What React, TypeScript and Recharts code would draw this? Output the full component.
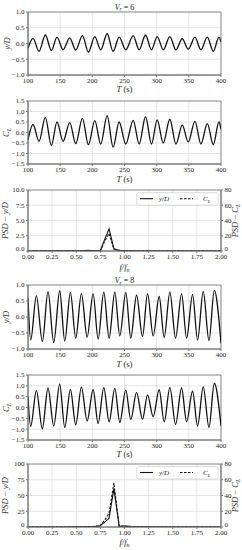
import React from 'react';
import { LineChart, Line, XAxis, YAxis, CartesianGrid, ReferenceArea } from 'recharts';

const FONT = '"Liberation Serif", "DejaVu Serif", serif';

// ---- Vr = 6 time series (extrema) ----
const t6 = [100, 107.8, 117.1, 127.0, 136.3, 145.1, 154.5, 164.9, 174.2, 184.6, 193.9, 203.8, 213.1, 223.0, 232.3, 241.7, 252.0, 263.5, 272.8, 282.7, 292.0, 300.8, 310.2, 320.5, 329.9, 339.8, 349.1, 359.5, 368.8, 378.7, 388.0, 396.8, 400];
const yD6 = [-0.15, 0.16, -0.25, 0.27, -0.22, 0.2, -0.2, 0.18, -0.21, 0.25, -0.27, 0.22, -0.2, 0.31, -0.25, 0.2, -0.2, 0.25, -0.2, 0.27, -0.2, 0.22, -0.2, 0.22, -0.2, 0.15, -0.18, 0.2, -0.2, 0.2, -0.25, 0.2, 0.05];
const cL6 = [-0.35, 0.38, -0.42, 0.72, -0.62, 0.5, -0.42, 0.47, -0.53, 0.67, -0.58, 0.57, -0.55, 0.8, -0.7, 0.5, -0.55, 0.58, -0.55, 0.75, -0.55, 0.6, -0.5, 0.63, -0.55, 0.35, -0.45, 0.53, -0.55, 0.42, -0.58, 0.5, 0.15];

// ---- Vr = 8 time series ----
const t8 = [100, 104.2, 113.0, 122.3, 131.1, 140.0, 149.3, 157.1, 165.9, 174.2, 183.0, 191.9, 201.2, 209.0, 217.8, 226.1, 234.9, 242.7, 252.0, 259.8, 268.7, 278.0, 285.8, 294.6, 303.9, 311.7, 320.5, 329.4, 338.7, 346.5, 355.8, 363.6, 372.4, 381.3, 389.6, 400];
const yD8 = [0.6, -0.72, 0.66, -0.77, 0.79, -0.8, 0.82, -0.75, 0.77, -0.66, 0.73, -0.63, 0.72, -0.69, 0.78, -0.66, 0.78, -0.59, 0.76, -0.66, 0.68, -0.61, 0.72, -0.59, 0.64, -0.64, 0.78, -0.66, 0.72, -0.66, 0.7, -0.72, 0.8, -0.74, 0.83, -0.82];
const cL8 = [0.5, -0.87, 0.78, -0.98, 0.9, -0.85, 1.08, -0.92, 0.84, -0.8, 0.94, -0.62, 0.82, -0.74, 0.92, -0.66, 0.88, -0.69, 0.8, -0.56, 0.7, -0.55, 0.58, -0.42, 0.82, -0.66, 0.92, -0.78, 0.9, -0.66, 0.75, -0.85, 0.95, -0.92, 1.12, -0.85];

const timeTicks = [100, 150, 200, 250, 300, 350, 400];
const yDTicks = [-1, -0.5, 0, 0.5, 1];
const cLTicks = [-1.5, -1, -0.5, 0, 0.5, 1, 1.5];

// ---- PSD, Vr = 6 ----
const freq6 = [0, 0.1, 0.2, 0.3, 0.4, 0.5, 0.56, 0.62, 0.68, 0.75, 0.795, 0.84, 0.89, 0.94, 0.99, 1.05, 1.1, 1.2, 1.4, 1.6, 1.8, 2.0];
const psdYD6 = [0.01, 0.01, 0.01, 0.02, 0.02, 0.03, 0.05, 0.1, 0.04, 0.05, 1.9, 3.65, 0.35, 0.12, 0.08, 0.04, 0.02, 0.01, 0.01, 0.01, 0.01, 0.01];
const psdCL6 = [0.1, 0.1, 0.1, 0.1, 0.2, 0.2, 0.3, 0.6, 0.3, 0.4, 13, 23, 2.5, 0.9, 0.6, 0.3, 0.2, 0.1, 0.1, 0.1, 0.1, 0.1];

// ---- PSD, Vr = 8 ----
const freq8 = [0, 0.1, 0.2, 0.3, 0.4, 0.5, 0.6, 0.65, 0.7, 0.745, 0.79, 0.84, 0.89, 0.945, 0.99, 1.04, 1.1, 1.2, 1.4, 1.6, 1.8, 2.0];
const psdYD8 = [0.1, 0.1, 0.1, 0.1, 0.1, 0.2, 0.3, 0.5, 1.0, 2.0, 7, 14, 61, 1.0, 1.5, 1.0, 0.3, 0.2, 0.1, 0.1, 0.1, 0.1];
const psdCL8 = [0.1, 0.1, 0.1, 0.1, 0.1, 0.2, 0.3, 0.5, 0.8, 1.2, 8, 17.5, 56, 0.8, 1.2, 0.8, 0.3, 0.2, 0.1, 0.1, 0.1, 0.1];

const freqTicks = [0, 0.25, 0.5, 0.75, 1, 1.25, 1.5, 1.75, 2];
const psdLeftTicks6 = [0, 2.5, 5, 7.5, 10];
const psdLeftTicks8 = [0, 25, 50, 75, 100];
const psdRightTicks = [0, 20, 40, 60, 80];

const tickStyle = { fontSize: 7, fill: '#222', fontFamily: FONT };
const AX = '#777';
const GRID = '#dedede';

const fmt1 = (v: number) => (v < 0 ? '\u2212' : '') + Math.abs(v).toFixed(1);
const fmt2 = (v: number) => v.toFixed(2);
const fmt0 = (v: number) => String(v);

// y-axis tick that lifts the bottom (zero) label slightly so it clears the x tick label
const makeYTick = (fmt: (v: number) => string, lift: number) => (p: any) => {
  const v = p.payload.value;
  const dy = v === 0 ? -lift : 0;
  return (
    <text x={p.x} y={p.y + dy} dy="0.355em" textAnchor={p.textAnchor} fontSize={7} fill="#222" fontFamily={FONT}>
      {fmt(v)}
    </text>
  );
};

function TimePanel(props: { top: number; height: number; mTop: number; xH: number; t: number[]; v: number[]; yTicks: number[] }) {
  const { top, height, mTop, xH, t, v, yTicks } = props;
  const data = t.map((x, i) => ({ t: x, v: v[i] }));
  const yMin = yTicks[0];
  const yMax = yTicks[yTicks.length - 1];
  return (
    <div style={{ position: 'absolute', left: 0, top }}>
      <LineChart width={242} height={height} data={data} margin={{ top: mTop, right: 21, bottom: 0, left: 0 }}>
        <CartesianGrid stroke={GRID} strokeWidth={0.8} />
        <XAxis dataKey="t" type="number" domain={[100, 400]} ticks={timeTicks} interval={0} height={xH}
          tickSize={2} tickMargin={1} tick={tickStyle} stroke={AX} tickFormatter={fmt0} allowDataOverflow />
        <YAxis type="number" domain={[yMin, yMax]} ticks={yTicks} interval={0} width={28}
          tickSize={2} tickMargin={1.5} tick={tickStyle} stroke={AX} tickFormatter={fmt1} allowDataOverflow />
        <ReferenceArea x1={100} x2={400} y1={yMin} y2={yMax} fill="none" fillOpacity={0} stroke={AX} strokeWidth={0.8} />
        <Line dataKey="v" type="monotone" stroke="#111" strokeWidth={1.3} dot={false} isAnimationActive={false} />
      </LineChart>
    </div>
  );
}

function PsdPanel(props: { top: number; height: number; mTop: number; xH: number; f: number[]; a: number[]; b: number[]; leftTicks: number[]; leftFmt: (v: number) => string }) {
  const { top, height, mTop, xH, f, a, b, leftTicks, leftFmt } = props;
  const data = f.map((x, i) => ({ f: x, yd: a[i], cl: b[i] }));
  const lMax = leftTicks[leftTicks.length - 1];
  return (
    <div style={{ position: 'absolute', left: 0, top }}>
      <LineChart width={242} height={height} data={data} margin={{ top: mTop, right: 0, bottom: 0, left: 0 }}>
        <CartesianGrid stroke={GRID} strokeWidth={0.8} />
        <XAxis dataKey="f" type="number" domain={[0, 2]} ticks={freqTicks} interval={0} height={xH}
          tickSize={2} tickMargin={1.5} tick={tickStyle} stroke={AX} tickFormatter={fmt2} allowDataOverflow />
        <YAxis type="number" domain={[0, lMax]} ticks={leftTicks} interval={0} width={28}
          tickSize={2} tickMargin={1.5} tick={makeYTick(leftFmt, 2.5)} stroke={AX} allowDataOverflow />
        <YAxis yAxisId="r" orientation="right" type="number" domain={[0, 80]} ticks={psdRightTicks} interval={0} width={21}
          tickSize={2} tickMargin={1.5} tick={makeYTick(fmt0, 2.5)} stroke={AX} allowDataOverflow />
        <ReferenceArea x1={0} x2={2} y1={0} y2={lMax} fill="none" fillOpacity={0} stroke={AX} strokeWidth={0.8} />
        <Line dataKey="yd" type="linear" stroke="#111" strokeWidth={1.1} dot={false} isAnimationActive={false} />
        <Line dataKey="cl" yAxisId="r" type="linear" stroke="#111" strokeWidth={1.1} strokeDasharray="2.5 1.5" dot={false} isAnimationActive={false} />
      </LineChart>
    </div>
  );
}

function Legend(props: { y: number }) {
  const { y } = props;
  return (
    <g>
      <rect x={136.7} y={y} width={81.6} height={12.5} rx={2} fill="#fff" fillOpacity={0.85} stroke="#ccc" strokeWidth={0.7} />
      <line x1={140} x2={153} y1={y + 6} y2={y + 6} stroke="#111" strokeWidth={1.1} />
      <text x={159} y={y + 8.5} fontSize={7} fontStyle="italic">y/D</text>
      <line x1={180} x2={193} y1={y + 6} y2={y + 6} stroke="#111" strokeWidth={1.1} strokeDasharray="2.5 1.5" />
      <text x={203} y={y + 8.5} fontSize={7} fontStyle="italic">C<tspan fontSize={5} dy={1.5}>L</tspan></text>
    </g>
  );
}

function YLabel(props: { x: number; y: number; kind: 'yd' | 'cl' | 'psdyd' | 'psdcl' }) {
  const { x, y, kind } = props;
  const tf = `translate(${x},${y}) rotate(-90)`;
  if (kind === 'yd') return <text transform={tf} textAnchor="middle" fontSize={8.5} fontStyle="italic">y/D</text>;
  if (kind === 'cl') return <text transform={tf} textAnchor="middle" fontSize={8.5} fontStyle="italic">C<tspan fontSize={6} dy={1.5}>L</tspan></text>;
  if (kind === 'psdyd') return <text transform={tf} textAnchor="middle" fontSize={8.5} fontStyle="italic">PSD <tspan fontStyle="normal">{'\u2212'}</tspan> y/D</text>;
  return <text transform={tf} textAnchor="middle" fontSize={8.5} fontStyle="italic">PSD <tspan fontStyle="normal">{'\u2212'}</tspan> C<tspan fontSize={6} dy={1.5}>L</tspan></text>;
}

function TLabel(props: { y: number }) {
  return <text x={124.5} y={props.y} textAnchor="middle" fontSize={8.5}><tspan fontStyle="italic">T</tspan> (s)</text>;
}

function FLabel(props: { y: number }) {
  return <text x={124.5} y={props.y} textAnchor="middle" fontSize={8.5} fontStyle="italic">f/f<tspan fontSize={6} dy={1.5}>n</tspan></text>;
}

function Title(props: { y: number; v: string }) {
  return (
    <text x={124.5} y={props.y} textAnchor="middle" fontSize={8}>
      <tspan fontStyle="italic">V</tspan><tspan fontStyle="italic" fontSize={5.5} dy={1.5}>r</tspan><tspan dy={-1.5}> = {props.v}</tspan>
    </text>
  );
}

export default function App() {
  return (
    <div style={{ position: 'absolute', left: 0, top: 0, width: 242, height: 550, background: '#fff', fontFamily: FONT }}>
      <TimePanel top={0} height={95} mTop={12} xH={20} t={t6} v={yD6} yTicks={yDTicks} />
      <TimePanel top={90} height={95} mTop={11} xH={21} t={t6} v={cL6} yTicks={cLTicks} />
      <PsdPanel top={180} height={100} mTop={10} xH={29} f={freq6} a={psdYD6} b={psdCL6} leftTicks={psdLeftTicks6} leftFmt={fmt1} />
      <TimePanel top={275} height={95} mTop={10} xH={21} t={t8} v={yD8} yTicks={yDTicks} />
      <TimePanel top={365} height={95} mTop={10} xH={20} t={t8} v={cL8} yTicks={cLTicks} />
      <PsdPanel top={455} height={95} mTop={9} xH={23} f={freq8} a={psdYD8} b={psdCL8} leftTicks={psdLeftTicks8} leftFmt={fmt0} />
      <svg width={242} height={550} style={{ position: 'absolute', left: 0, top: 0, pointerEvents: 'none' }} fontFamily={FONT} fill="#222">
        <Title y={9.5} v="6" />
        <YLabel x={10} y={43.5} kind="yd" />
        <TLabel y={92} />
        <YLabel x={9} y={132.5} kind="cl" />
        <TLabel y={182} />
        <YLabel x={8} y={220.5} kind="psdyd" />
        <YLabel x={238} y={220.5} kind="psdcl" />
        <FLabel y={270} />
        <Legend y={192.7} />
        <Title y={283} v="8" />
        <YLabel x={9} y={317} kind="yd" />
        <TLabel y={367} />
        <YLabel x={9} y={407.5} kind="cl" />
        <TLabel y={457} />
        <YLabel x={8} y={495.5} kind="psdyd" />
        <YLabel x={238} y={495.5} kind="psdcl" />
        <FLabel y={545} />
        <Legend y={466.5} />
      </svg>
    </div>
  );
}
